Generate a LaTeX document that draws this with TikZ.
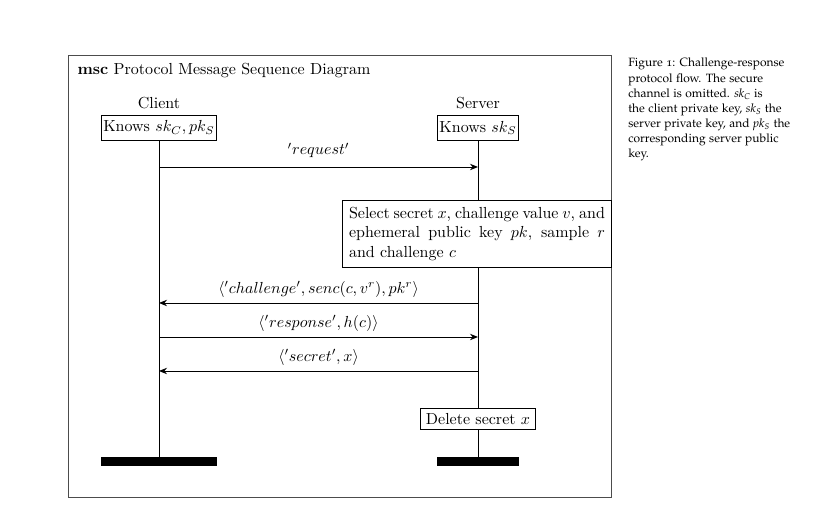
\documentclass[tikz,border=0pt]{standalone}
\usetikzlibrary{calc,arrows.meta}

\tikzset{
  instbox/.style={draw, semithick, fill=white, inner xsep=1.2pt},
  lifebox/.style={draw, semithick, fill=white},
  actbox/.style={draw, semithick, fill=white, text width=160pt, align=justify, inner sep=4.2pt},
  msgarrow/.style={semithick, -{Stealth[length=5pt,width=4pt]}},
  lifeline/.style={semithick},
  capfont/.style={font=\fontencoding{T1}\fontfamily{pplj}\fontsize{7.5}{9.4}\selectfont},
}

\begin{document}
\begin{tikzpicture}[x=0.625pt,y=-0.625pt]
				\useasboundingbox (0,0) rectangle (817,523);
				% frame and title
				\draw[semithick, black!70] (68,55) rectangle (611,497);
				\node[anchor=west] (title) at (72,71) {\textbf{msc} Protocol Message Sequence Diagram};
				% instances
				\node (client) at (159,103) {Client};
				\node (server) at (478,103) {Server};
				\node[instbox] (cbox) at (159,128) {Knows $sk_C, pk_S$};
				\node[instbox] (sbox) at (478,128) {Knows $sk_S$};
				\node[actbox] (act) at (477,234) {Select secret $x$, challenge value $v$, and ephemeral public key $pk$, sample $r$ and challenge $c$};
				\node[lifebox] (del) at (478,419) {Delete secret $x$};
				\coordinate (cend) at (159,457);
				\coordinate (send) at (478,457);
				% lifelines
				\draw[lifeline] (cbox) -- (cend);
				\draw[lifeline] (sbox) -- (act.north -| sbox);
				\draw[lifeline] (act.south -| sbox) -- (del);
				\draw[lifeline] (del) -- (send);
				% end bars
				\fill (cbox.west |- cend) rectangle ($(cbox.east |- cend)+(0,9)$);
				\fill (sbox.west |- send) rectangle ($(sbox.east |- send)+(0,9)$);
				% messages
				\coordinate (c1) at (159,167); \coordinate (s1) at (478,167);
				\coordinate (c2) at (159,303); \coordinate (s2) at (478,303);
				\coordinate (c3) at (159,337); \coordinate (s3) at (478,337);
				\coordinate (c4) at (159,371); \coordinate (s4) at (478,371);
				\draw[msgarrow] (c1) -- node[above=2pt] {$'request'$} (s1);
				\draw[msgarrow] (s2) -- node[above] {$\langle 'challenge', senc(c, v^r), pk^r\rangle$} (c2);
				\draw[msgarrow] (c3) -- node[above] {$\langle 'response', h(c)\rangle$} (s3);
				\draw[msgarrow] (s4) -- node[above] {$\langle 'secret', x\rangle$} (c4);
				% caption
				\node[capfont, anchor=north west, align=left, inner sep=0pt] (caption) at (628,58)
				  {Figure 1: Challenge-response\\ protocol flow. The secure\\ channel is omitted. \textit{sk}\textsubscript{\textit{C}} is\\ the client private key, \textit{sk}\textsubscript{\textit{S}} the\\ server private key, and \textit{pk}\textsubscript{\textit{S}} the\\ corresponding server public\\ key.};
			\end{tikzpicture}
\end{document}
